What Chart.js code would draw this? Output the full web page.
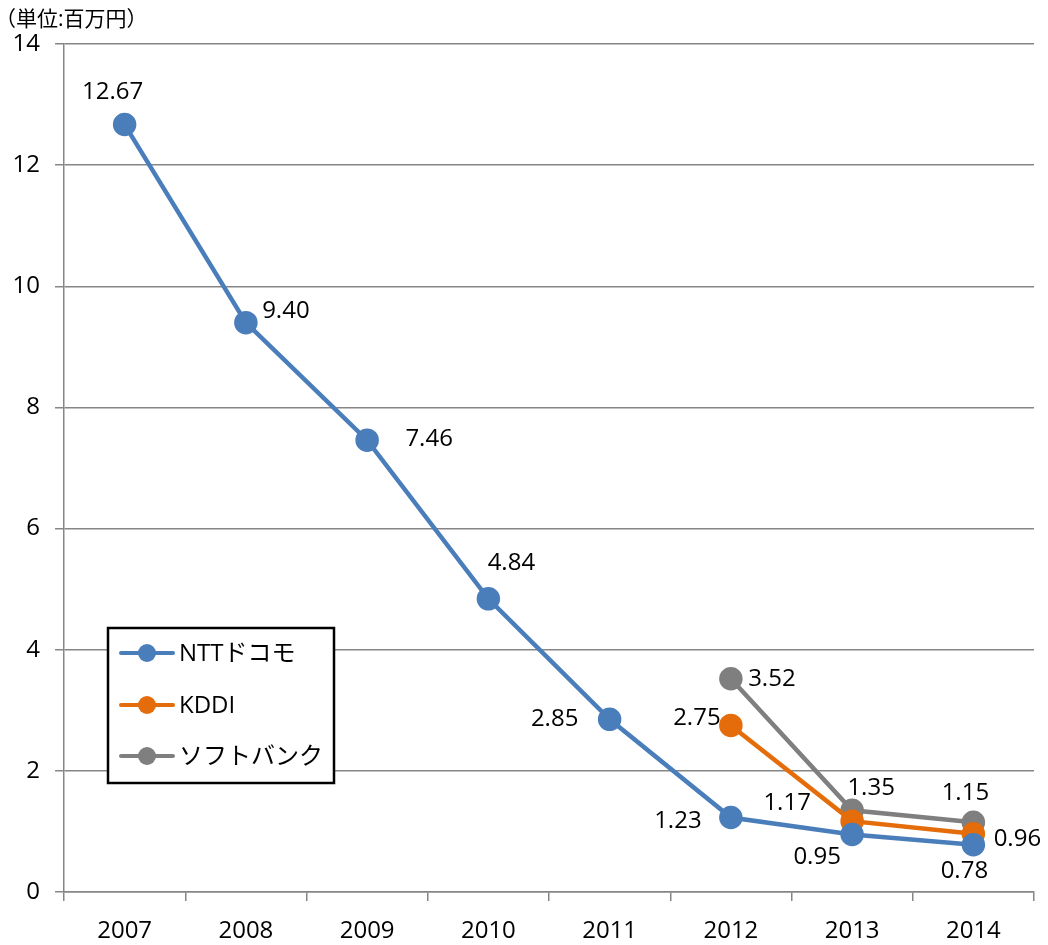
<!DOCTYPE html>
<html>
<head>
<meta charset="utf-8">
<script src="https://cdn.jsdelivr.net/npm/chart.js@4.4.1/dist/chart.umd.min.js"></script>
<style>
  html, body { margin: 0; padding: 0; background: #fff; }
  #wrap { width: 1048px; height: 945px; position: relative; }
</style>
</head>
<body>
<div id="wrap"><canvas id="grafico"></canvas></div>
<script>
// dados
const anos = ["2007", "2008", "2009", "2010", "2011", "2012", "2013", "2014"];
const valoresDocomo = [12.67, 9.40, 7.46, 4.84, 2.85, 1.23, 0.95, 0.78];
const valoresKddi = [null, null, null, null, null, 2.75, 1.17, 0.96];
const valoresSoftbank = [null, null, null, null, null, 3.52, 1.35, 1.15];
const nomesSeries = ["NTTドコモ", "KDDI", "ソフトバンク"];
const unidade = "（単位:百万円）";
const ticksY = [0, 2, 4, 6, 8, 10, 12, 14];

// deslocamento dos rótulos (px) em relação ao ponto
const offDocomo = [[-12, -32], [40, -11], [62, -1], [23, -36], [-55, 0], [-53, 4], [-35, 23], [-9, 26]];
const offKddi = [null, null, null, null, null, [-34, -7], [-65, -18], [44, 5]];
const offSoftbank = [null, null, null, null, null, [41, 0], [19, -22], [-8, -29]];

const cores = ["#4a7ebb", "#e46c0a", "#7f7f7f"];
const fonte = "'Open Sans', 'Noto Sans CJK JP', sans-serif";

const rotulosPlugin = {
  id: "rotulos",
  afterDatasetsDraw(chart) {
    const ctx = chart.ctx;
    const offs = [offDocomo, offKddi, offSoftbank];
    ctx.save();
    ctx.font = "24px " + fonte;
    ctx.fillStyle = "#000";
    ctx.textAlign = "center";
    ctx.textBaseline = "middle";
    chart.data.datasets.forEach((ds, i) => {
      const meta = chart.getDatasetMeta(i);
      ds.data.forEach((v, j) => {
        if (v === null) return;
        const p = meta.data[j];
        const o = offs[i][j];
        ctx.fillText(v.toFixed(2), p.x + o[0], p.y + o[1]);
      });
    });
    ctx.restore();
  },
};

const legendaPlugin = {
  id: "legendaCaixa",
  afterDraw(chart) {
    const ctx = chart.ctx;
    ctx.save();
    // unidade
    ctx.font = "21px " + fonte;
    ctx.fillStyle = "#000";
    ctx.textAlign = "left";
    ctx.textBaseline = "middle";
    ctx.fillText(unidade, -5, 20);

    // caixa da legenda
    const x = 108, y = 628, w = 226, h = 155;
    ctx.fillStyle = "#fff";
    ctx.fillRect(x, y, w, h);
    ctx.strokeStyle = "#000";
    ctx.lineWidth = 2.5;
    ctx.strokeRect(x, y, w, h);
    const ys = [653, 705, 756];
    nomesSeries.forEach((nome, i) => {
      ctx.strokeStyle = cores[i];
      ctx.lineWidth = 4;
      ctx.lineCap = "round";
      ctx.beginPath();
      ctx.moveTo(121, ys[i]);
      ctx.lineTo(173, ys[i]);
      ctx.stroke();
      ctx.fillStyle = cores[i];
      ctx.beginPath();
      ctx.arc(147, ys[i], 9, 0, Math.PI * 2);
      ctx.fill();
      ctx.fillStyle = "#000";
      ctx.font = "24px " + fonte;
      ctx.fillText(nome, 179, ys[i] + 1);
    });
    ctx.restore();
  },
};

function serie(label, dados, cor) {
  return {
    label: label,
    data: dados,
    borderColor: cor,
    backgroundColor: cor,
    pointBackgroundColor: cor,
    pointBorderColor: cor,
    borderWidth: 4.5,
    pointRadius: 9.5,
    pointHoverRadius: 9.5,
    tension: 0,
    spanGaps: false,
  };
}

const ctx = document.getElementById("grafico").getContext("2d");
new Chart(ctx, {
  type: "line",
  data: {
    labels: anos,
    datasets: [
      serie(nomesSeries[0], valoresDocomo, cores[0]),
      serie(nomesSeries[1], valoresKddi, cores[1]),
      serie(nomesSeries[2], valoresSoftbank, cores[2]),
    ],
  },
  options: {
    responsive: true,
    maintainAspectRatio: false,
    animation: false,
    layout: { padding: { top: 44, right: 13, left: 0, bottom: 0 } },
    plugins: { legend: { display: false }, tooltip: { enabled: false } },
    scales: {
      x: {
        offset: true,
        grid: { offset: true, drawOnChartArea: false, drawTicks: true, tickLength: 9, color: "#868686", lineWidth: 1.5 },
        border: { color: "#868686", width: 1.5 },
        ticks: { font: { size: 24, family: fonte }, color: "#000", padding: 16 },
        afterFit: (s) => { s.height = 53; },
      },
      y: {
        min: 0,
        max: 14,
        afterBuildTicks: (s) => { s.ticks = ticksY.map((v) => ({ value: v })); },
        grid: { color: "#868686", lineWidth: 1.5, tickLength: 9 },
        border: { color: "#868686", width: 1.5 },
        ticks: { font: { size: 24, family: fonte }, color: "#000", padding: 15 },
        afterFit: (s) => { s.width = 64; },
      },
    },
  },
  plugins: [rotulosPlugin, legendaPlugin],
});
</script>
</body>
</html>
